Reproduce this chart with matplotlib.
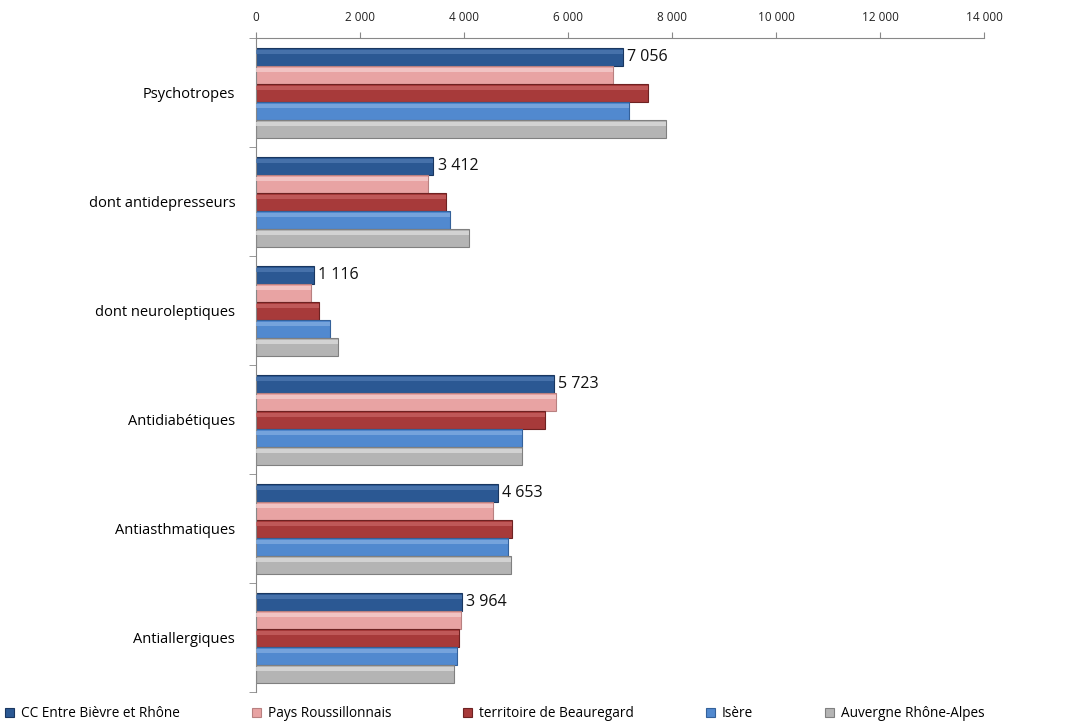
import matplotlib.pyplot as plt
import matplotlib.ticker as mticker
import numpy as np

plt.rcParams['font.family'] = ['Open Sans', 'DejaVu Sans']

categories = ["Psychotropes", "dont antidepresseurs", "dont neuroleptiques",
              "Antidiabétiques", "Antiasthmatiques", "Antiallergiques"]
series = ["CC Entre Bièvre et Rhône", "Pays Roussillonnais",
          "territoire de Beauregard", "Isère", "Auvergne Rhône-Alpes"]
cc = [7056, 3412, 1116, 5723, 4653, 3964]
pays = [6865, 3310, 1060, 5770, 4560, 3945]
beau = [7540, 3650, 1210, 5560, 4920, 3900]
isere = [7170, 3730, 1420, 5115, 4850, 3870]
ara = [7885, 4100, 1580, 5115, 4900, 3810]

values = [cc, pays, beau, isere, ara]
colors = ["#2B5893", "#E8A3A3", "#A73A3A", "#5189CF", "#B4B4B4"]
edges = ["#1A3760", "#B88080", "#6E2222", "#34619A", "#808080"]
highlights = ["#4D78B0", "#F4CCCC", "#C66060", "#7FAAE0", "#DADADA"]

fig = plt.figure(figsize=(10.65, 7.26), dpi=100)
ax = fig.add_axes([256 / 1065, 1 - 692 / 726, 728 / 1065, 654 / 726])

n = len(series)
bar_h = 0.165
y = np.arange(len(categories))
for k in range(n):
    pos = y - 0.41 + bar_h * (k + 0.5)
    ax.barh(pos, values[k], height=bar_h, color=colors[k], edgecolor=edges[k],
            linewidth=0.8, label=series[k], zorder=2)
    # bevel highlight
    ax.barh(pos - bar_h * 0.28, values[k], height=bar_h * 0.22,
            color=highlights[k], linewidth=0, alpha=0.8, zorder=3)
    if k == 0:
        for yy, v in zip(pos, values[k]):
            ax.text(v + 80, yy, f"{v:,}".replace(",", " "), va="center",
                    ha="left", fontsize=11.5, color="#111111")

ax.set_xlim(0, 14000)
ax.set_ylim(len(categories) - 0.5, -0.5)
ax.xaxis.set_major_locator(mticker.MultipleLocator(2000))
ax.xaxis.set_major_formatter(mticker.FuncFormatter(lambda v, p: f"{int(v):,}".replace(",", " ")))
ax.xaxis.tick_top()
ax.tick_params(axis="x", direction="out", length=4, labelsize=8.5, colors="#888888",
               labelcolor="#222222", pad=6)

ax.set_yticks(y)
ax.set_yticklabels(categories, fontsize=10.5)
ax.set_yticks(np.arange(len(categories) + 1) - 0.5, minor=True)
ax.tick_params(axis="y", which="major", length=0, pad=15)
ax.tick_params(axis="y", which="minor", length=5, color="#888888")

for s in ["right", "bottom"]:
    ax.spines[s].set_visible(False)
for s in ["top", "left"]:
    ax.spines[s].set_color("#888888")
    ax.spines[s].set_linewidth(0.8)

fig.legend(*ax.get_legend_handles_labels(), loc="lower left",
           bbox_to_anchor=(0.0, -0.001), ncol=5, frameon=False,
           fontsize=9.8, handlelength=0.65, handleheight=0.65, handletextpad=0.5,
           columnspacing=5.3, borderaxespad=0.2, borderpad=0.2)

fig.savefig("out.png", dpi=100)
